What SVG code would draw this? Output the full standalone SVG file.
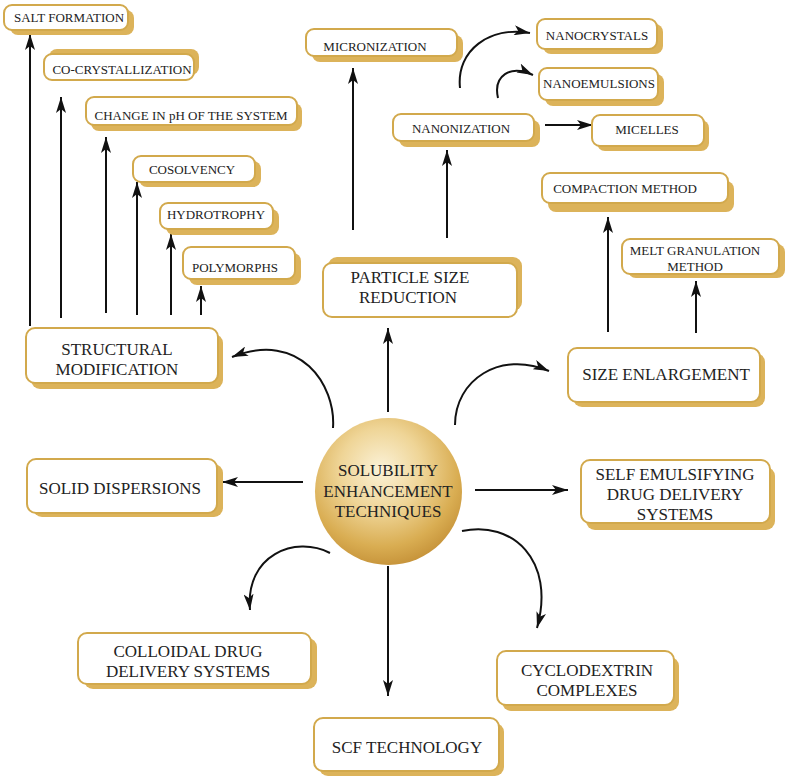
<svg xmlns="http://www.w3.org/2000/svg" width="790" height="781" viewBox="0 0 790 781">
<defs>
<style>
.bx{fill:#ffffff;stroke:#d2a94c;stroke-width:2}
.sh{fill:#dcb35a}
.c{fill:none;stroke:#111;stroke-width:2}
</style>
<marker id="ah" viewBox="0 0 16 10" refX="16" refY="5" markerWidth="16" markerHeight="10" markerUnits="userSpaceOnUse" orient="auto">
<path d="M0,0 L16,5 L0,10 L4,5 Z" fill="#111"/>
</marker>
<radialGradient id="gold" cx="0.45" cy="0.35" r="0.7">
<stop offset="0" stop-color="#fbf2d8"/>
<stop offset="0.4" stop-color="#efd597"/>
<stop offset="0.75" stop-color="#d9ad52"/>
<stop offset="1" stop-color="#c18c33"/>
</radialGradient>
</defs>

<g id="connectors">
<line class="c" x1="30" y1="326" x2="30" y2="34" marker-end="url(#ah)"/>
<line class="c" x1="61" y1="318" x2="61" y2="97" marker-end="url(#ah)"/>
<line class="c" x1="106" y1="313" x2="106" y2="137" marker-end="url(#ah)"/>
<line class="c" x1="137" y1="315" x2="137" y2="182" marker-end="url(#ah)"/>
<line class="c" x1="171" y1="315" x2="171" y2="234" marker-end="url(#ah)"/>
<line class="c" x1="201" y1="315" x2="201" y2="286" marker-end="url(#ah)"/>
<line class="c" x1="353" y1="230" x2="353" y2="68" marker-end="url(#ah)"/>
<line class="c" x1="447" y1="238" x2="447" y2="150" marker-end="url(#ah)"/>
<line class="c" x1="545" y1="125" x2="593" y2="125" marker-end="url(#ah)"/>
<path class="c" d="M460,88 C456,50 490,26 530,33" marker-end="url(#ah)"/>
<path class="c" d="M498,98 C493,76 510,64 533,75" marker-end="url(#ah)"/>
<line class="c" x1="608" y1="332" x2="608" y2="217" marker-end="url(#ah)"/>
<line class="c" x1="696" y1="333" x2="696" y2="281" marker-end="url(#ah)"/>
<line class="c" x1="388" y1="412" x2="388" y2="328" marker-end="url(#ah)"/>
<path class="c" d="M333,428 C336,385 300,330 232,357" marker-end="url(#ah)"/>
<path class="c" d="M455,425 C455,380 500,350 549,371" marker-end="url(#ah)"/>
<line class="c" x1="303" y1="482" x2="222" y2="482" marker-end="url(#ah)"/>
<line class="c" x1="475" y1="490" x2="568" y2="490" marker-end="url(#ah)"/>
<path class="c" d="M462,531 C512,520 556,560 537,628" marker-end="url(#ah)"/>
<path class="c" d="M330,553 C295,535 245,555 250,610" marker-end="url(#ah)"/>
<line class="c" x1="388" y1="566" x2="388" y2="696" marker-end="url(#ah)"/>
</g>

<g font-family="Liberation Serif" fill="#222" text-anchor="middle">
<g id="center" font-size="17">
<circle cx="388.5" cy="491.5" r="73.5" fill="url(#gold)"/>
<text x="388" y="476">SOLUBILITY</text>
<text x="388" y="497">ENHANCEMENT</text>
<text x="388" y="517">TECHNIQUES</text>
</g>

<g id="salt-formation" font-size="13">
<rect class="sh" x="10" y="10" width="124" height="25" rx="8"/>
<rect class="bx" x="4" y="5" width="124" height="25" rx="8"/>
<text x="69" y="22">SALT FORMATION</text>
</g>

<g id="co-crystallization" font-size="13">
<rect class="sh" x="49" y="49" width="150" height="26" rx="8"/>
<rect class="bx" x="44" y="54" width="150" height="26" rx="8"/>
<text x="122" y="74">CO-CRYSTALLIZATION</text>
</g>

<g id="change-ph" font-size="13">
<rect class="sh" x="91" y="103" width="211" height="28" rx="8"/>
<rect class="bx" x="86" y="97" width="211" height="28" rx="8"/>
<text x="191" y="120">CHANGE IN pH OF THE SYSTEM</text>
</g>

<g id="cosolvency" font-size="13">
<rect class="sh" x="139" y="161" width="122" height="26" rx="8"/>
<rect class="bx" x="133" y="156" width="122" height="26" rx="8"/>
<text x="192" y="174">COSOLVENCY</text>
</g>

<g id="hydrotrophy" font-size="13">
<rect class="sh" x="166" y="209" width="113" height="26" rx="8"/>
<rect class="bx" x="160" y="203" width="113" height="26" rx="8"/>
<text x="216" y="219">HYDROTROPHY</text>
</g>

<g id="polymorphs" font-size="13">
<rect class="sh" x="189" y="253" width="112" height="32" rx="8"/>
<rect class="bx" x="183" y="247" width="112" height="32" rx="8"/>
<text x="235" y="272">POLYMORPHS</text>
</g>

<g id="structural-modification" font-size="17">
<rect class="sh" x="31" y="334" width="192" height="55" rx="9"/>
<rect class="bx" x="26" y="328" width="192" height="55" rx="9"/>
<text x="117" y="355">STRUCTURAL</text>
<text x="117" y="375">MODIFICATION</text>
</g>

<g id="micronization" font-size="13">
<rect class="sh" x="312" y="35" width="151" height="27" rx="8"/>
<rect class="bx" x="306" y="29" width="151" height="27" rx="8"/>
<text x="375" y="51">MICRONIZATION</text>
</g>

<g id="nanocrystals" font-size="13">
<rect class="sh" x="543" y="24" width="120" height="30" rx="8"/>
<rect class="bx" x="537" y="19" width="120" height="30" rx="8"/>
<text x="597" y="40">NANOCRYSTALS</text>
</g>

<g id="nanoemulsions" font-size="13">
<rect class="sh" x="545" y="74" width="119" height="32" rx="8"/>
<rect class="bx" x="539" y="68" width="119" height="32" rx="8"/>
<text x="599" y="88">NANOEMULSIONS</text>
</g>

<g id="nanonization" font-size="13">
<rect class="sh" x="399" y="120" width="141" height="27" rx="8"/>
<rect class="bx" x="393" y="114" width="141" height="27" rx="8"/>
<text x="461" y="133">NANONIZATION</text>
</g>

<g id="micelles" font-size="13">
<rect class="sh" x="597" y="120" width="112" height="31" rx="8"/>
<rect class="bx" x="592" y="115" width="112" height="31" rx="8"/>
<text x="647" y="134">MICELLES</text>
</g>

<g id="particle-size-reduction" font-size="17">
<rect class="sh" x="328" y="257" width="194" height="54" rx="9"/>
<rect class="bx" x="323" y="263" width="194" height="54" rx="9"/>
<text x="410" y="283">PARTICLE SIZE</text>
<text x="408" y="303">REDUCTION</text>
</g>

<g id="compaction-method" font-size="13">
<rect class="sh" x="548" y="181" width="186" height="31" rx="8"/>
<rect class="bx" x="542" y="173" width="186" height="30" rx="8"/>
<text x="625" y="193">COMPACTION METHOD</text>
</g>

<g id="melt-granulation" font-size="13">
<rect class="sh" x="628" y="244" width="157" height="34" rx="8"/>
<rect class="bx" x="622" y="239" width="157" height="35" rx="8"/>
<text x="695" y="255">MELT GRANULATION</text>
<text x="695" y="271">METHOD</text>
</g>

<g id="size-enlargement" font-size="17">
<rect class="sh" x="573" y="353" width="192" height="54" rx="9"/>
<rect class="bx" x="568" y="348" width="192" height="54" rx="9"/>
<text x="666" y="380">SIZE ENLARGEMENT</text>
</g>

<g id="solid-dispersions" font-size="17">
<rect class="sh" x="33" y="464" width="190" height="53" rx="9"/>
<rect class="bx" x="27" y="459" width="190" height="54" rx="9"/>
<text x="120" y="494">SOLID DISPERSIONS</text>
</g>

<g id="self-emulsifying" font-size="17">
<rect class="sh" x="586" y="467" width="189" height="63" rx="9"/>
<rect class="bx" x="581" y="460" width="189" height="63" rx="9"/>
<text x="675" y="480">SELF EMULSIFYING</text>
<text x="675" y="500">DRUG DELIVERY</text>
<text x="675" y="520">SYSTEMS</text>
</g>

<g id="colloidal" font-size="17">
<rect class="sh" x="84" y="638" width="233" height="51" rx="9"/>
<rect class="bx" x="78" y="633" width="233" height="51" rx="9"/>
<text x="188" y="657">COLLOIDAL DRUG</text>
<text x="188" y="677">DELIVERY SYSTEMS</text>
</g>

<g id="scf-technology" font-size="17">
<rect class="sh" x="319" y="723" width="185" height="53" rx="9"/>
<rect class="bx" x="314" y="718" width="185" height="53" rx="9"/>
<text x="407" y="753">SCF TECHNOLOGY</text>
</g>

<g id="cyclodextrin" font-size="17">
<rect class="sh" x="502" y="657" width="177" height="54" rx="9"/>
<rect class="bx" x="497" y="651" width="177" height="54" rx="9"/>
<text x="587" y="676">CYCLODEXTRIN</text>
<text x="587" y="696">COMPLEXES</text>
</g>
</g>
</svg>
